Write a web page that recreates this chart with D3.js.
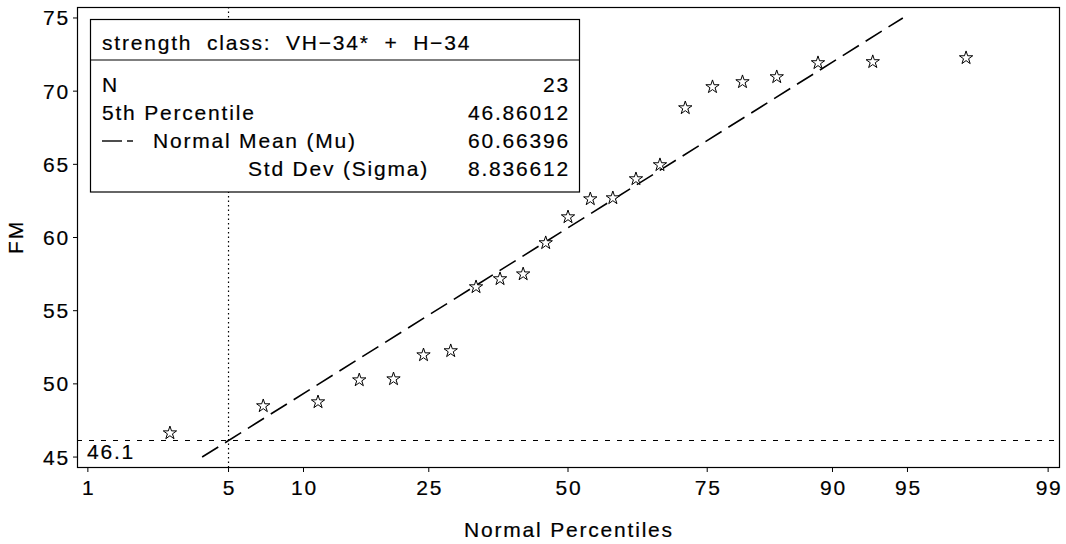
<!DOCTYPE html>
<html>
<head>
<meta charset="utf-8">
<script src="https://cdn.jsdelivr.net/npm/d3@7"></script>
<style>
  body { margin: 0; background: #fff; }
  svg { display: block; }
  text { font-family: "Liberation Sans", Arial, Helvetica, sans-serif; font-size: 21px; letter-spacing: 1.8px; fill: #000; stroke: #000; stroke-width: 0.2px; }
</style>
</head>
<body>
<svg id="chart" width="1066" height="544"></svg>
<script>
// FM observations, sorted ascending (n = 23)
const fmValues = [46.64, 48.49, 48.76, 50.26, 50.33, 51.97, 52.25, 56.62, 57.17, 57.50,
                  59.63, 61.40, 62.63, 62.70, 64.00, 64.96, 68.85, 70.29, 70.63, 70.97,
                  71.93, 72.00, 72.27];
const percentileTicks = [1, 5, 10, 25, 50, 75, 90, 95, 99];
const fmTicks = [45, 50, 55, 60, 65, 70, 75];
const statLabels = ["N", "5th Percentile", "Normal Mean (Mu)", "Std Dev (Sigma)"];
const statValues = ["23", "46.86012", "60.66396", "8.836612"];
const fitMu = 60.66396;
const fitSigma = 8.836612;
const refPercentile = 5;
const legendTitle = "strength class: VH\u221234* + H\u221234";
const xTitle = "Normal Percentiles";
const yTitle = "FM";

// inverse standard normal CDF (Acklam)
function probit(p) {
  const a = [-39.69683028665376, 220.9460984245205, -275.9285104469687, 138.3577518672690, -30.66479806614716, 2.506628277459239];
  const b = [-54.47609879822406, 161.5858368580409, -155.6989798598866, 66.80131188771972, -13.28068155288572];
  const c = [-0.007784894002430293, -0.3223964580411365, -2.400758277161838, -2.549732539343734, 4.374664141464968, 2.938163982698783];
  const d = [0.007784695709041462, 0.3224671290700398, 2.445134137142996, 3.754408661907416];
  const pl = 0.02425, ph = 1 - pl;
  let q, r;
  if (p < pl) {
    q = Math.sqrt(-2 * Math.log(p));
    return (((((c[0]*q+c[1])*q+c[2])*q+c[3])*q+c[4])*q+c[5]) / ((((d[0]*q+d[1])*q+d[2])*q+d[3])*q+1);
  } else if (p <= ph) {
    q = p - 0.5; r = q * q;
    return (((((a[0]*r+a[1])*r+a[2])*r+a[3])*r+a[4])*r+a[5])*q / (((((b[0]*r+b[1])*r+b[2])*r+b[3])*r+b[4])*r+1);
  } else {
    q = Math.sqrt(-2 * Math.log(1 - p));
    return -(((((c[0]*q+c[1])*q+c[2])*q+c[3])*q+c[4])*q+c[5]) / ((((d[0]*q+d[1])*q+d[2])*q+d[3])*q+1);
  }
}

const plot = { left: 77, right: 1059, top: 7, bottom: 467 };
const svg = d3.select("#chart");

// x: normal quantile scale, y: FM
const x = d3.scaleLinear().domain([-2.379, 2.379]).range([plot.left, plot.right]);
const y = d3.scaleLinear().domain([44.32, 75.75]).range([plot.bottom, plot.top]);

// Blom plotting positions for the ordered sample
const n = fmValues.length;
const points = fmValues.map((v, i) => ({ z: probit((i + 1 - 0.375) / (n + 0.25)), v }));

// frame
svg.append("rect")
  .attr("x", plot.left + 0.5).attr("y", plot.top + 0.5)
  .attr("width", plot.right - plot.left).attr("height", plot.bottom - plot.top)
  .attr("fill", "none").attr("stroke", "#000").attr("stroke-width", 1.2);

// y axis ticks and labels
const yAxis = svg.append("g");
fmTicks.forEach(t => {
  yAxis.append("line")
    .attr("x1", plot.left - 4).attr("x2", plot.left)
    .attr("y1", y(t)).attr("y2", y(t))
    .attr("stroke", "#000").attr("stroke-width", 1);
  yAxis.append("text")
    .attr("x", plot.left - 7).attr("y", y(t) + 7.5)
    .attr("text-anchor", "end").text(t);
});

// x axis ticks and labels
const xAxis = svg.append("g");
percentileTicks.forEach(t => {
  const px = x(probit(t / 100));
  xAxis.append("line")
    .attr("x1", px).attr("x2", px)
    .attr("y1", plot.bottom).attr("y2", plot.bottom + 5)
    .attr("stroke", "#000").attr("stroke-width", 1);
  xAxis.append("text")
    .attr("x", px + 1).attr("y", 495)
    .attr("text-anchor", "middle").text(t);
});

// axis titles
svg.append("text")
  .attr("x", (plot.left + plot.right) / 2 + 1).attr("y", 537)
  .attr("text-anchor", "middle").text(xTitle);
svg.append("text")
  .attr("transform", `translate(23,${(plot.top + plot.bottom) / 2}) rotate(-90)`)
  .attr("text-anchor", "middle").text(yTitle);

// reference lines at the fitted 5th percentile
const zRef = probit(refPercentile / 100);
const fmRef = fitMu + fitSigma * zRef;
svg.append("line")
  .attr("x1", x(zRef)).attr("x2", x(zRef))
  .attr("y1", plot.top).attr("y2", plot.bottom)
  .attr("stroke", "#000").attr("stroke-width", 1.2)
  .attr("stroke-dasharray", "1.5,3");
svg.append("line")
  .attr("x1", plot.left).attr("x2", plot.right)
  .attr("y1", y(fmRef)).attr("y2", y(fmRef))
  .attr("stroke", "#000").attr("stroke-width", 1.2)
  .attr("stroke-dasharray", "5,7");
svg.append("text")
  .attr("x", plot.left + 10).attr("y", 459)
  .text(d3.format(".1f")(fmRef));

// fitted normal line, drawn across the FM range 45..75
const zLo = (45 - fitMu) / fitSigma, zHi = (75 - fitMu) / fitSigma;
svg.append("line")
  .attr("x1", x(zLo)).attr("y1", y(fitMu + fitSigma * zLo))
  .attr("x2", x(zHi)).attr("y2", y(fitMu + fitSigma * zHi))
  .attr("stroke", "#000").attr("stroke-width", 1.6)
  .attr("stroke-dasharray", "19,8");

// observations as open stars
const star = d3.symbol().type(d3.symbolStar).size(55);
svg.append("g").selectAll("path").data(points).join("path")
  .attr("d", star)
  .attr("transform", d => `translate(${x(d.z)},${y(d.v)})`)
  .attr("fill", "#fff").attr("stroke", "#000").attr("stroke-width", 1);

// inset statistics table
const box = { x: 90, y: 19.5, w: 489, h: 172.5, sep: 60 };
const inset = svg.append("g");
inset.append("rect")
  .attr("x", box.x + 0.5).attr("y", box.y)
  .attr("width", box.w).attr("height", box.h)
  .attr("fill", "#fff").attr("stroke", "#000").attr("stroke-width", 1.2);
inset.append("line")
  .attr("x1", box.x).attr("x2", box.x + box.w)
  .attr("y1", box.sep).attr("y2", box.sep)
  .attr("stroke", "#000").attr("stroke-width", 1.2);
inset.append("text").attr("x", 102).attr("y", 50)
  .style("word-spacing", "7px").text(legendTitle);

const rowY = [92, 120, 148, 176];
const labelX = [102, 102, 153, 248];
statLabels.forEach((s, i) => {
  inset.append("text").attr("x", labelX[i]).attr("y", rowY[i]).text(s);
  inset.append("text").attr("x", 570).attr("y", rowY[i])
    .attr("text-anchor", "end").text(statValues[i]);
});
// line sample for the fitted normal
inset.append("line").attr("x1", 102).attr("x2", 122).attr("y1", 141).attr("y2", 141)
  .attr("stroke", "#000").attr("stroke-width", 1.4);
inset.append("line").attr("x1", 127).attr("x2", 133).attr("y1", 141).attr("y2", 141)
  .attr("stroke", "#000").attr("stroke-width", 1.4);
</script>
</body>
</html>
